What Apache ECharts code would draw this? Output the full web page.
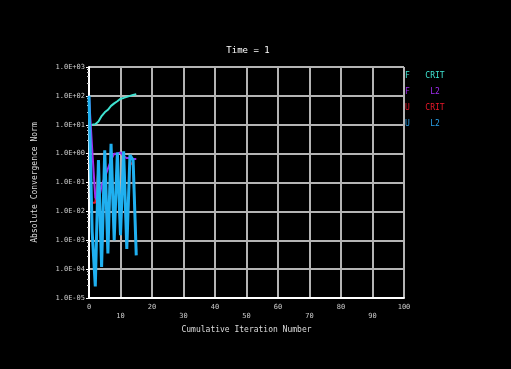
<!DOCTYPE html>
<html><head><meta charset="utf-8">
<script src="https://cdn.jsdelivr.net/npm/echarts@6/dist/echarts.min.js"></script>
<style>html,body{margin:0;padding:0;background:#000}#c{width:511px;height:369px}</style>
</head><body><div id="c"></div>
<script>
const chartTitle = 'Time = 1';
const xAxisName = 'Cumulative Iteration Number';
const yAxisName = 'Absolute Convergence Norm';
const seriesNames = ['F CRIT', 'F L2', 'U CRIT', 'U L2'];
const seriesColors = ['#3fe3d2', '#a02cf0', '#e8182a', '#1fb0f0'];
const legendColors = ['#3fe3d2', '#a02cf0', '#e8182a', '#2aa0e8'];

const fCritIter = [1, 2, 3, 4, 5, 6, 7, 8, 9, 10, 11, 12, 13, 14, 15];
const fCritVals = [10, 10.5, 13, 20, 27, 33, 45, 55, 65, 80, 85, 92, 100, 108, 115];

const fL2Iter = [0, 1, 2, 3, 4, 5, 6, 7, 8, 9, 10, 11, 12, 13, 14, 15];
const fL2Vals = [100, 1.5, 0.03, 0.02, 0.08, 0.15, 0.3, 0.6, 1.0, 1.0, 1.1, 0.8, 0.7, 0.7, 0.65, 0.65];

const uCritIter = [1, 2, 3, 4, 5, 6, 7, 8, 9, 10, 11, 12, 13, 14, 15];
const uCritVals = [0.02, 0.02, 0.3, 2e-4, 0.8, 5e-4, 1.2, 1.5e-3, 0.6, 2e-3, 0.7, 7e-4, 0.5, 0.4, 4e-4];

const uL2Iter = [0, 1, 2, 3, 4, 5, 6, 7, 8, 9, 10, 11, 12, 13, 14, 15];
const uL2Vals = [100, 2e-3, 2.5e-5, 0.6, 1.2e-4, 1.3, 3.5e-4, 2.2, 1e-3, 1.1, 1.5e-3, 1.2, 5e-4, 0.9, 0.6, 3e-4];

const xTicks = [0, 10, 20, 30, 40, 50, 60, 70, 80, 90, 100];

const pairs = (xs, ys) => xs.map((x, i) => [x, ys[i]]);
const mono = 'DejaVu Sans Mono';

function fmtExp(v) {
  const e = Math.round(Math.log10(v));
  const s = e < 0 ? '-' : '+';
  const a = Math.abs(e);
  return '1.0E' + s + (a < 10 ? '0' + a : '' + a);
}

const chart = echarts.init(document.getElementById('c'));
const dataSets = [pairs(fCritIter, fCritVals), pairs(fL2Iter, fL2Vals), pairs(uCritIter, uCritVals), pairs(uL2Iter, uL2Vals)];
const widths = [2, 2, 2, 3];
const zs = [5, 2.5, 2, 3];

chart.setOption({
  backgroundColor: '#000',
  animation: false,
  title: {
    text: chartTitle, left: 243, top: 41, textAlign: 'center',
    textStyle: { color: '#fff', fontFamily: mono, fontSize: 9, fontWeight: 'normal' }
  },
  legend: {
    orient: 'vertical', left: 395, top: 65, itemGap: 5, itemWidth: 0, itemHeight: 11,
    icon: 'rect', selectedMode: false,
    data: seriesNames.map((n, i) => ({ name: n, textStyle: { color: legendColors[i] } })),
    formatter: n => { const p = n.split(' '); return '{a|' + p[0] + '}{b|' + p[1] + '}'; },
    textStyle: {
      fontFamily: mono, fontSize: 8,
      rich: { a: { width: 19, fontFamily: mono, fontSize: 8 }, b: { width: 22, align: 'center', fontFamily: mono, fontSize: 8 } }
    }
  },
  grid: { left: 89, right: 107, top: 67, bottom: 71 },
  xAxis: {
    type: 'value', min: 0, max: 100, interval: 10,
    name: xAxisName, nameLocation: 'middle', nameGap: 21,
    nameTextStyle: { color: '#ddd', fontFamily: mono, fontSize: 8 },
    axisLine: { lineStyle: { color: '#fff', width: 2 } },
    axisTick: { show: false },
    splitLine: { show: true, lineStyle: { color: '#b4b4b4', width: 2 } },
    axisLabel: {
      color: '#ccc', fontFamily: mono, fontSize: 7, margin: 5, lineHeight: 9,
      formatter: v => (xTicks.indexOf(v) % 2 === 1 ? '\n' + v : '' + v)
    }
  },
  yAxis: {
    type: 'log', logBase: 10, min: 1e-5, max: 1e3, splitNumber: 8,
    name: yAxisName, nameLocation: 'middle', nameGap: 50, nameRotate: 90,
    nameTextStyle: { color: '#ddd', fontFamily: mono, fontSize: 8 },
    axisLine: { show: true, lineStyle: { color: '#fff', width: 2 } },
    axisTick: { show: true, length: 3, lineStyle: { color: '#fff' } },
    minorTick: { show: true, splitNumber: 5, length: 2, lineStyle: { color: '#ccc' } },
    splitLine: { show: true, lineStyle: { color: '#b4b4b4', width: 2 } },
    axisLabel: { color: '#ccc', fontFamily: mono, fontSize: 7, margin: 4, formatter: fmtExp }
  },
  series: seriesNames.map((n, i) => ({
    name: n, type: 'line', data: dataSets[i], symbol: 'none', z: zs[i],
    color: seriesColors[i],
    lineStyle: { color: seriesColors[i], width: widths[i] }
  }))
});
</script></body></html>
